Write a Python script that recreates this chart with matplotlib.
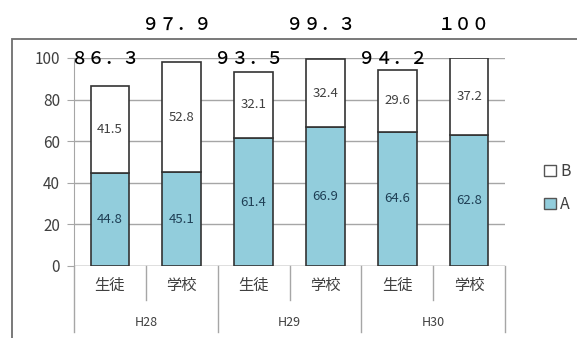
import numpy as np
import matplotlib.pyplot as plt
from matplotlib.patches import Rectangle, Patch

plt.rcParams['font.family'] = ['Noto Sans CJK JP', 'DejaVu Sans']

# データ
groups = ['H28', 'H29', 'H30']
cats = ['生徒', '学校', '生徒', '学校', '生徒', '学校']
a_vals = [44.8, 45.1, 61.4, 66.9, 64.6, 62.8]
b_vals = [41.5, 52.8, 32.1, 32.4, 29.6, 37.2]

blue = '#92CDDC'
edge = '#333333'
txt = '#404040'

W, H = 577, 338
fig = plt.figure(figsize=(W / 100, H / 100), dpi=100)
ax = fig.add_axes([74 / W, (H - 266) / H, (505 - 74) / W, 208 / H])

x = np.arange(len(cats))
totals = [round(a + b, 1) for a, b in zip(a_vals, b_vals)]

ax.bar(x, a_vals, width=0.54, color=blue, edgecolor=edge, linewidth=1.2, zorder=3)
ax.bar(x, b_vals, bottom=a_vals, width=0.54, color='white', edgecolor=edge,
       linewidth=1.2, zorder=3)

for i in x:
    ax.text(i, a_vals[i] / 2, f'{a_vals[i]:.1f}', ha='center', va='center',
            fontsize=9.5, color='#1F3F55', zorder=4)
    ax.text(i, a_vals[i] + b_vals[i] / 2, f'{b_vals[i]:.1f}', ha='center',
            va='center', fontsize=9.5, color=txt, zorder=4)

# 合計値 (全角表記)
fw = str.maketrans('0123456789.', '０１２３４５６７８９．')
for i in x:
    s = f'{totals[i]:g}'.translate(fw)
    ypix = 59 if i % 2 == 0 else 25
    ax.annotate(s, xy=(i, 1 - ypix / H), xycoords=('data', 'figure fraction'),
                xytext=(-5, 0), textcoords='offset pixels',
                ha='center', va='center', fontsize=12.5, fontweight='medium',
                color='black', annotation_clip=False)

ax.set_xlim(-0.5, 5.5)
ax.set_ylim(0, 100)
ax.set_yticks(range(0, 101, 20))
ax.tick_params(axis='y', length=5, color='#A6A6A6', labelsize=11,
               labelcolor=txt, pad=5)
ax.set_xticks([])
ax.yaxis.grid(True, color='#A6A6A6', linewidth=1.0, zorder=0)
for s in ['top', 'right', 'bottom']:
    ax.spines[s].set_visible(False)
ax.spines['left'].set_color('#A6A6A6')
ax.axhline(0, color='#A6A6A6', linewidth=1.0, zorder=1)

# 項目ラベルと区切り線
tr = ax.get_xaxis_transform()
px = 1 / 208
for i, c in enumerate(cats):
    ax.text(i, -19 * px, c, transform=tr, ha='center', va='center',
            fontsize=11, color=txt)
for k, g in enumerate(groups):
    ax.text(2 * k + 0.5, -56 * px, g, transform=tr, ha='center', va='center',
            fontsize=9, color=txt)
for b in np.arange(-0.5, 6.0, 1.0):
    depth = 66 if (b + 0.5) % 2 == 0 else 34
    ax.plot([b, b], [0, -depth * px], transform=tr, color='#A6A6A6',
            linewidth=1.0, clip_on=False)

# 凡例
handles = [Patch(facecolor='white', edgecolor='#555555', label='B'),
           Patch(facecolor=blue, edgecolor='#555555', label='A')]
fig.legend(handles=handles, loc='center left',
           bbox_to_anchor=(530 / W, 1 - 188 / H), frameon=False,
           fontsize=11.5, handlelength=0.75, handleheight=0.75,
           handletextpad=0.25, labelspacing=1.0, labelcolor=txt)

# 外枠
fig.add_artist(Rectangle((12 / W, -0.2), 1.2, (H - 39) / H + 0.2,
                         transform=fig.transFigure, fill=False,
                         edgecolor='#6E6E6E', linewidth=1.3))

fig.savefig('out.png', dpi=100)
